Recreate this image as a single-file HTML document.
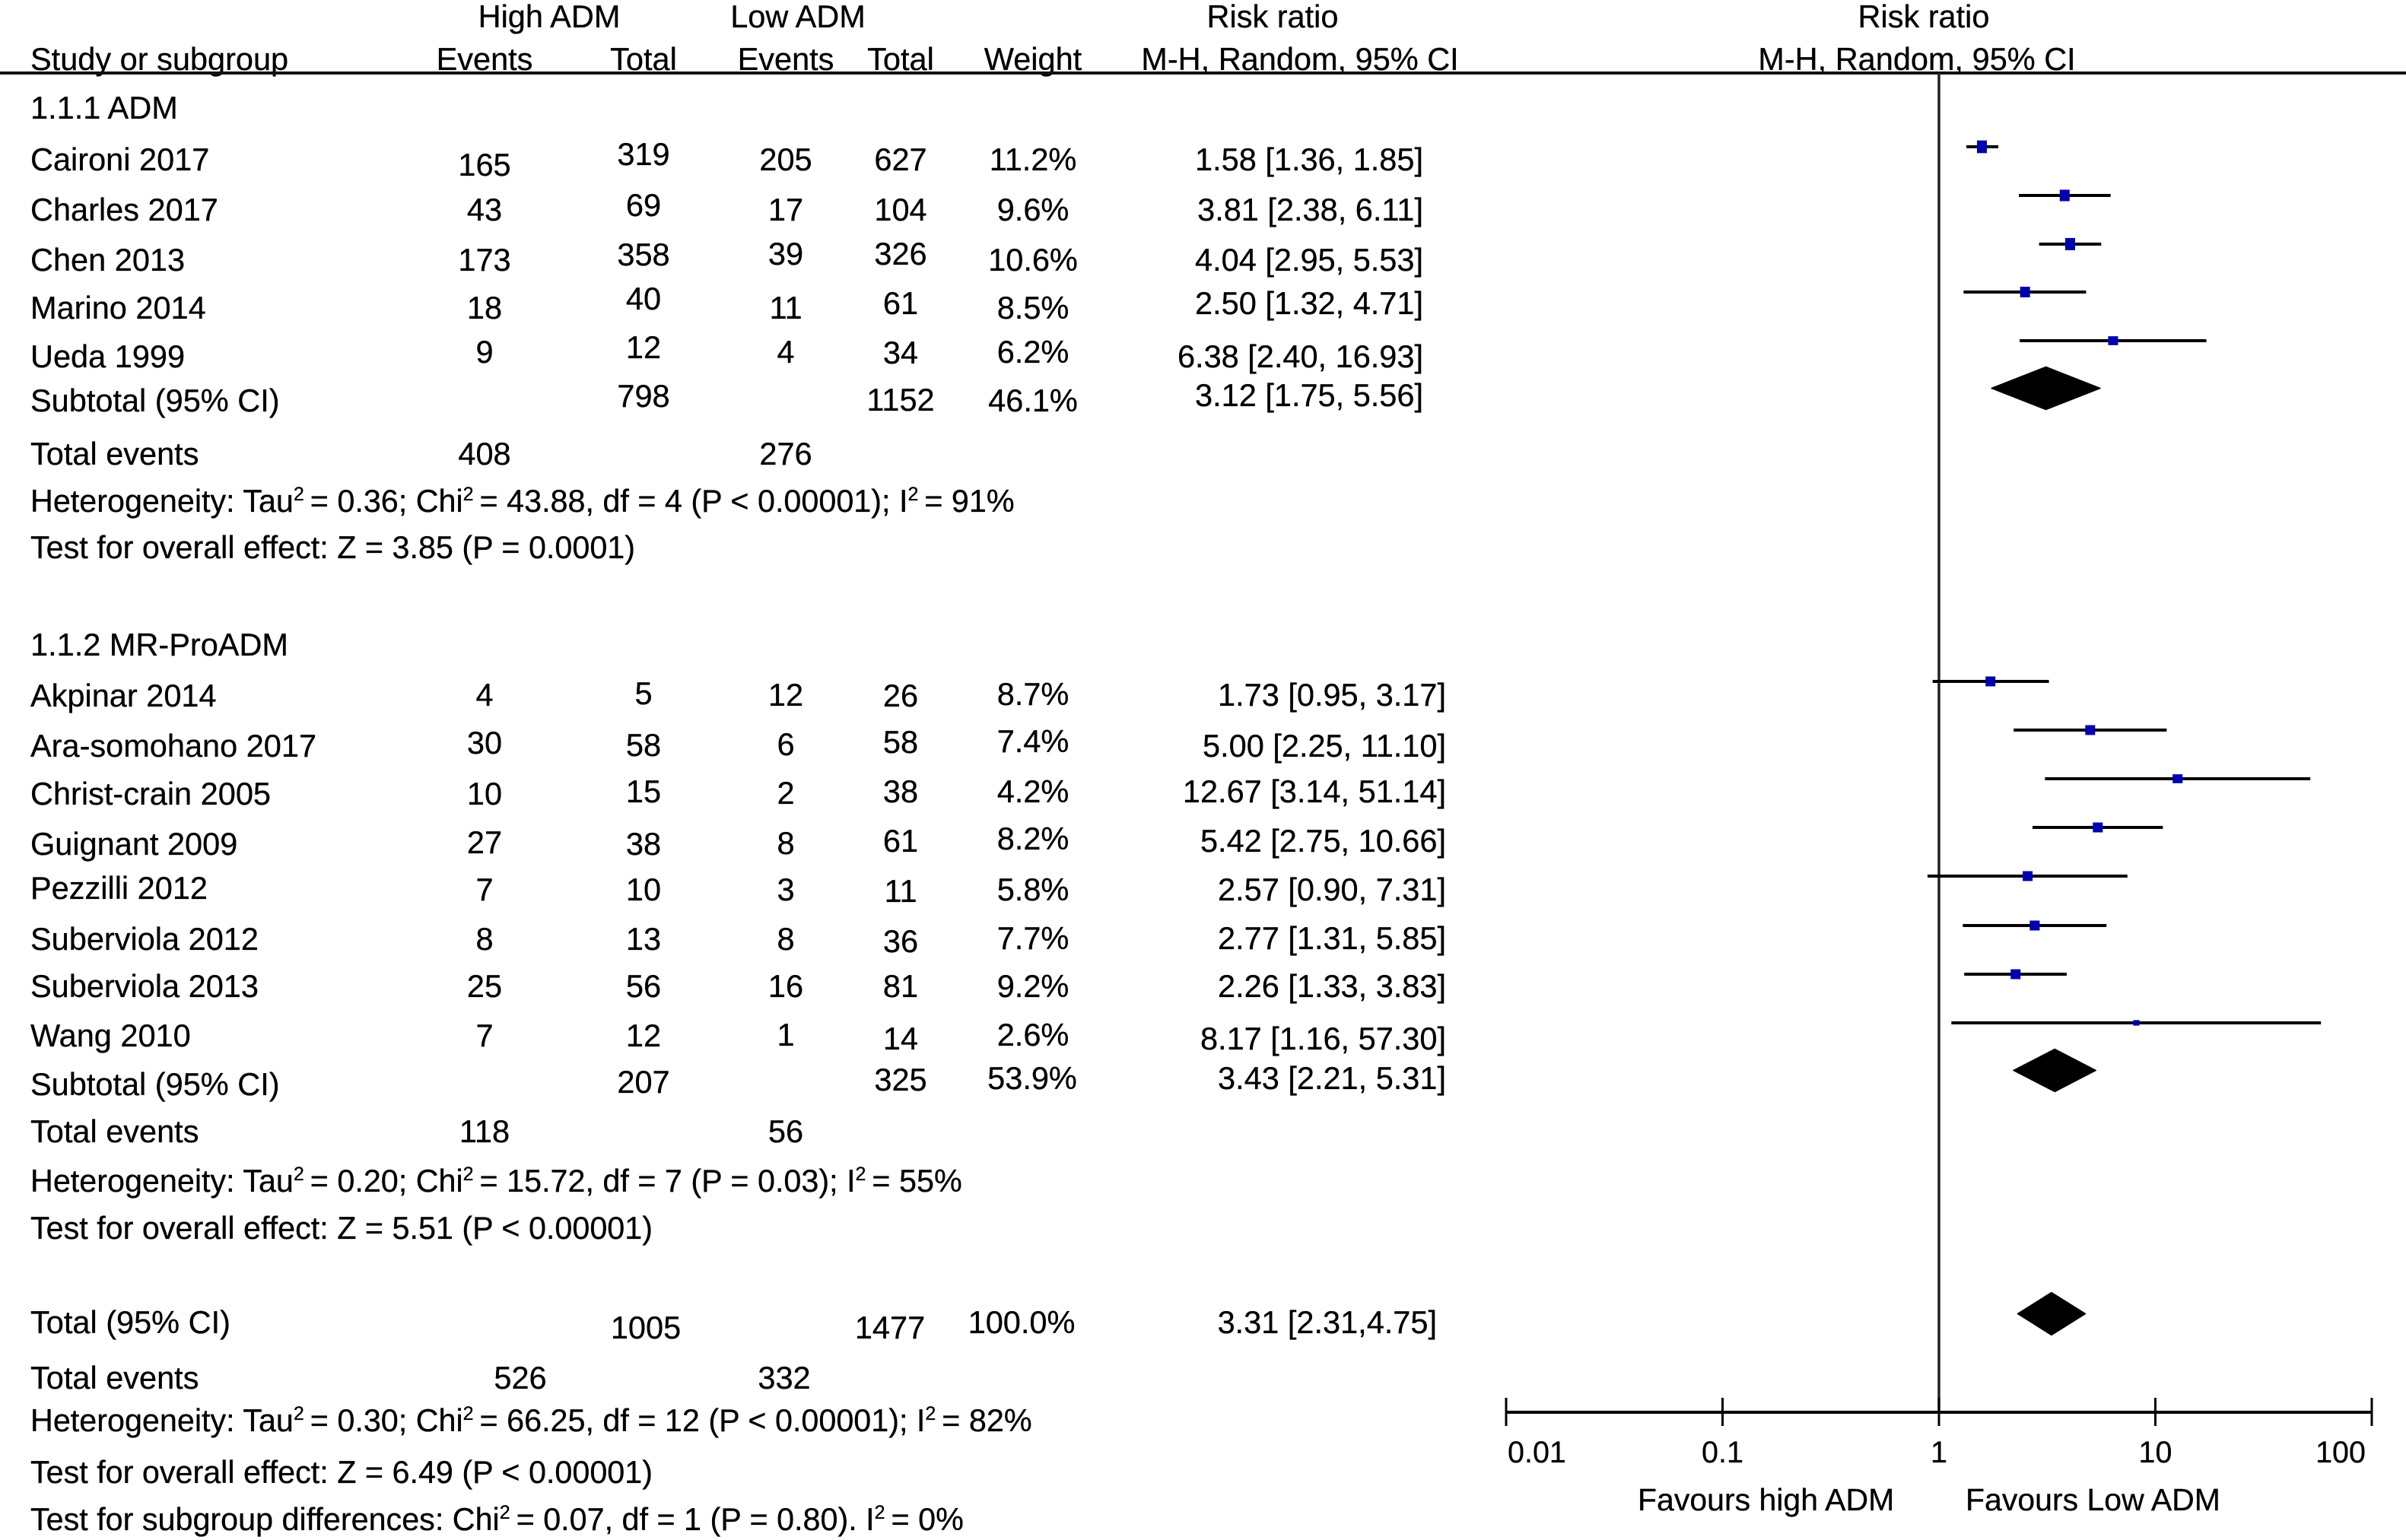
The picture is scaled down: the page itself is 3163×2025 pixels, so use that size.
<!DOCTYPE html>
<html lang="en">
<head>
<meta charset="utf-8">
<title>Forest plot: High ADM vs Low ADM</title>
<style>
html,body{margin:0;padding:0;background:#fff;width:3163px;height:2025px;overflow:hidden}
svg{display:block}
text{font-family:"Liberation Sans",Arial,sans-serif;font-size:41.5px;fill:#000;stroke:#000;stroke-width:.3px}
.m{text-anchor:middle}
.r{text-anchor:end}
.n{font-size:41.3px}
.s{font-size:25px}
</style>
</head>
<body>
<svg id="forest" xmlns="http://www.w3.org/2000/svg" width="3163" height="2025" viewBox="0 0 3163 2025">
<rect x="0" y="0" width="3163" height="2025" fill="#fff"/>

<g>
<text class="m" x="722" y="36">High ADM</text>
<text class="m" x="1049" y="36">Low ADM</text>
<text class="m" x="1673" y="36">Risk ratio</text>
<text class="m" x="2529" y="36">Risk ratio</text>
<text x="40" y="92">Study or subgroup</text>
<text class="m" x="637" y="92">Events</text>
<text class="m" x="846" y="92">Total</text>
<text class="m" x="1033" y="92">Events</text>
<text class="m" x="1184" y="92">Total</text>
<text class="m" x="1358" y="92">Weight</text>
<text class="m" x="1709" y="92">M-H, Random, 95% CI</text>
<text class="m" x="2520" y="92">M-H, Random, 95% CI</text>
</g>

<g>
<text x="40" y="156">1.1.1 ADM</text>

<text x="40" y="224">Caironi 2017</text>
<text class="m" x="637" y="231">165</text>
<text class="m" x="846" y="217">319</text>
<text class="m" x="1033" y="224">205</text>
<text class="m" x="1184" y="224">627</text>
<text class="m" x="1358" y="224">11.2%</text>
<text class="r" x="1871" y="224">1.58 [1.36, 1.85]</text>

<text x="40" y="290">Charles 2017</text>
<text class="m" x="637" y="290">43</text>
<text class="m" x="846" y="284">69</text>
<text class="m" x="1033" y="290">17</text>
<text class="m" x="1184" y="290">104</text>
<text class="m" x="1358" y="290">9.6%</text>
<text class="r" x="1871" y="290">3.81 [2.38, 6.11]</text>

<text x="40" y="356">Chen 2013</text>
<text class="m" x="637" y="356">173</text>
<text class="m" x="846" y="349">358</text>
<text class="m" x="1033" y="348">39</text>
<text class="m" x="1184" y="348">326</text>
<text class="m" x="1358" y="356">10.6%</text>
<text class="r" x="1871" y="356">4.04 [2.95, 5.53]</text>

<text x="40" y="419">Marino 2014</text>
<text class="m" x="637" y="419">18</text>
<text class="m" x="846" y="407">40</text>
<text class="m" x="1033" y="419">11</text>
<text class="m" x="1184" y="413">61</text>
<text class="m" x="1358" y="419">8.5%</text>
<text class="r" x="1871" y="413">2.50 [1.32, 4.71]</text>

<text x="40" y="483">Ueda 1999</text>
<text class="m" x="637" y="477">9</text>
<text class="m" x="846" y="471">12</text>
<text class="m" x="1033" y="477">4</text>
<text class="m" x="1184" y="478">34</text>
<text class="m" x="1358" y="477">6.2%</text>
<text class="r" x="1871" y="483">6.38 [2.40, 16.93]</text>

<text x="40" y="541">Subtotal (95% CI)</text>
<text class="m" x="846" y="535">798</text>
<text class="m" x="1184" y="540">1152</text>
<text class="m" x="1358" y="541">46.1%</text>
<text class="r" x="1871" y="534">3.12 [1.75, 5.56]</text>

<text x="40" y="611">Total events</text>
<text class="m" x="637" y="611">408</text>
<text class="m" x="1033" y="611">276</text>
<text class="n" x="40" y="673">Heterogeneity: Tau<tspan class="s" dy="-15">2</tspan><tspan dx="-3.5" dy="15"> = 0.36; Chi</tspan><tspan class="s" dy="-15">2</tspan><tspan dx="-3.5" dy="15"> = 43.88, df = 4 (P &lt; 0.00001); I</tspan><tspan class="s" dy="-15">2</tspan><tspan dx="-3.5" dy="15"> = 91%</tspan></text>
<text class="n" x="40" y="734">Test for overall effect: Z = 3.85 (P = 0.0001)</text>
</g>

<g>
<text x="40" y="862">1.1.2 MR-ProADM</text>

<text x="40" y="929">Akpinar 2014</text>
<text class="m" x="637" y="928">4</text>
<text class="m" x="846" y="926">5</text>
<text class="m" x="1033" y="928">12</text>
<text class="m" x="1184" y="929">26</text>
<text class="m" x="1358" y="927">8.7%</text>
<text class="r" x="1901" y="928">1.73 [0.95, 3.17]</text>

<text x="40" y="995">Ara-somohano 2017</text>
<text class="m" x="637" y="991">30</text>
<text class="m" x="846" y="994">58</text>
<text class="m" x="1033" y="993">6</text>
<text class="m" x="1184" y="990">58</text>
<text class="m" x="1358" y="989">7.4%</text>
<text class="r" x="1901" y="995">5.00 [2.25, 11.10]</text>

<text x="40" y="1058">Christ-crain 2005</text>
<text class="m" x="637" y="1058">10</text>
<text class="m" x="846" y="1055">15</text>
<text class="m" x="1033" y="1057">2</text>
<text class="m" x="1184" y="1055">38</text>
<text class="m" x="1358" y="1055">4.2%</text>
<text class="r" x="1901" y="1055">12.67 [3.14, 51.14]</text>

<text x="40" y="1124">Guignant 2009</text>
<text class="m" x="637" y="1122">27</text>
<text class="m" x="846" y="1124">38</text>
<text class="m" x="1033" y="1123">8</text>
<text class="m" x="1184" y="1120">61</text>
<text class="m" x="1358" y="1117">8.2%</text>
<text class="r" x="1901" y="1120">5.42 [2.75, 10.66]</text>

<text x="40" y="1182">Pezzilli 2012</text>
<text class="m" x="637" y="1184">7</text>
<text class="m" x="846" y="1184">10</text>
<text class="m" x="1033" y="1184">3</text>
<text class="m" x="1184" y="1186">11</text>
<text class="m" x="1358" y="1184">5.8%</text>
<text class="r" x="1901" y="1184">2.57 [0.90, 7.31]</text>

<text x="40" y="1249">Suberviola 2012</text>
<text class="m" x="637" y="1249">8</text>
<text class="m" x="846" y="1249">13</text>
<text class="m" x="1033" y="1249">8</text>
<text class="m" x="1184" y="1252">36</text>
<text class="m" x="1358" y="1248">7.7%</text>
<text class="r" x="1901" y="1248">2.77 [1.31, 5.85]</text>

<text x="40" y="1311">Suberviola 2013</text>
<text class="m" x="637" y="1311">25</text>
<text class="m" x="846" y="1311">56</text>
<text class="m" x="1033" y="1311">16</text>
<text class="m" x="1184" y="1311">81</text>
<text class="m" x="1358" y="1311">9.2%</text>
<text class="r" x="1901" y="1311">2.26 [1.33, 3.83]</text>

<text x="40" y="1376">Wang 2010</text>
<text class="m" x="637" y="1376">7</text>
<text class="m" x="846" y="1376">12</text>
<text class="m" x="1033" y="1375">1</text>
<text class="m" x="1184" y="1380">14</text>
<text class="m" x="1358" y="1375">2.6%</text>
<text class="r" x="1901" y="1380">8.17 [1.16, 57.30]</text>

<text x="40" y="1440">Subtotal (95% CI)</text>
<text class="m" x="846" y="1437">207</text>
<text class="m" x="1184" y="1434">325</text>
<text class="m" x="1357" y="1432">53.9%</text>
<text class="r" x="1901" y="1432">3.43 [2.21, 5.31]</text>

<text x="40" y="1502">Total events</text>
<text class="m" x="637" y="1502">118</text>
<text class="m" x="1033" y="1502">56</text>
<text class="n" x="40" y="1567">Heterogeneity: Tau<tspan class="s" dy="-15">2</tspan><tspan dx="-3.5" dy="15"> = 0.20; Chi</tspan><tspan class="s" dy="-15">2</tspan><tspan dx="-3.5" dy="15"> = 15.72, df = 7 (P = 0.03); I</tspan><tspan class="s" dy="-15">2</tspan><tspan dx="-3.5" dy="15"> = 55%</tspan></text>
<text class="n" x="40" y="1629">Test for overall effect: Z = 5.51 (P &lt; 0.00001)</text>
</g>

<g>
<text x="40" y="1753">Total (95% CI)</text>
<text class="m" x="849" y="1760">1005</text>
<text class="m" x="1170" y="1760">1477</text>
<text class="m" x="1343" y="1753">100.0%</text>
<text class="r" x="1889" y="1753">3.31 [2.31,4.75]</text>
<text x="40" y="1826">Total events</text>
<text class="m" x="684" y="1826">526</text>
<text class="m" x="1031" y="1826">332</text>
<text class="n" x="40" y="1882">Heterogeneity: Tau<tspan class="s" dy="-15">2</tspan><tspan dx="-3.5" dy="15"> = 0.30; Chi</tspan><tspan class="s" dy="-15">2</tspan><tspan dx="-3.5" dy="15"> = 66.25, df = 12 (P &lt; 0.00001); I</tspan><tspan class="s" dy="-15">2</tspan><tspan dx="-3.5" dy="15"> = 82%</tspan></text>
<text class="n" x="40" y="1950">Test for overall effect: Z = 6.49 (P &lt; 0.00001)</text>
<text class="n" x="40" y="2012">Test for subgroup differences: Chi<tspan class="s" dy="-15">2</tspan><tspan dx="-3.5" dy="15"> = 0.07, df = 1 (P = 0.80). I</tspan><tspan class="s" dy="-15">2</tspan><tspan dx="-3.5" dy="15"> = 0%</tspan></text>
</g>

<rect x="0" y="94" width="3163" height="4" fill="#111"/>
<text style="font-size:41px" x="2153" y="1986">Favours high ADM</text>
<text style="font-size:41px" x="2584" y="1986">Favours Low ADM</text>
<g id="plot"></g>
</svg>

<script>
const studies = ["Caironi 2017","Charles 2017","Chen 2013","Marino 2014","Ueda 1999","Akpinar 2014","Ara-somohano 2017","Christ-crain 2005","Guignant 2009","Pezzilli 2012","Suberviola 2012","Suberviola 2013","Wang 2010"];
const studyGroup = [0,0,0,0,0,1,1,1,1,1,1,1,1];
const riskRatio = [1.58,3.81,4.04,2.50,6.38,1.73,5.00,12.67,5.42,2.57,2.77,2.26,8.17];
const ciLower = [1.36,2.38,2.95,1.32,2.40,0.95,2.25,3.14,2.75,0.90,1.31,1.33,1.16];
const ciUpper = [1.85,6.11,5.53,4.71,16.93,3.17,11.10,51.14,10.66,7.31,5.85,3.83,57.30];
const weights = [11.2,9.6,10.6,8.5,6.2,8.7,7.4,4.2,8.2,5.8,7.7,9.2,2.6];
const summaryNames = ["subtotal-adm","subtotal-mr-proadm","total-overall"];
const summaryRatio = [3.12,3.43,3.31];
const summaryLower = [1.75,2.21,2.31];
const summaryUpper = [5.56,5.31,4.75];
const tickValues = [0.01,0.1,1,10,100];
const tickLabels = ["0.01","0.1","1","10","100"];

const NS = "http://www.w3.org/2000/svg";
const plot = document.getElementById("plot");
const axisY = 1857;
const headerY = 96;

function xScale(v){ return 2549 + 284.5 * Math.log10(v); }
function groupRowY(group, row){ return Math.round(group === 0 ? 193 + row * 63.8 : 896 + row * 64.1); }
function make(tag, attrs){
  const el = document.createElementNS(NS, tag);
  for (const k in attrs) el.setAttribute(k, attrs[k]);
  plot.appendChild(el);
  return el;
}

const nullLine = make("line", {x1:xScale(1), x2:xScale(1), y1:headerY, y2:axisY, stroke:"#222", "stroke-width":3.5});



const rowCounter = [0, 0];
studies.forEach(function(name, i){
  const g = studyGroup[i];
  const y = groupRowY(g, rowCounter[g]);
  rowCounter[g] += 1;
  const ci = make("line", {x1:xScale(ciLower[i]), x2:xScale(ciUpper[i]), y1:y, y2:y, stroke:"#000", "stroke-width":4, "stroke-linecap":"square"});
  
  
  const w = Math.min(13, weights[i] * 3.1);
  const h = g === 0 ? 5.5 + weights[i] : Math.min(13, weights[i] * 2.8);
  const marker = make("rect", {x:xScale(riskRatio[i]) - w / 2, y:y - h / 2, width:w, height:h, fill:"#0000b0"});
  
  
});

summaryNames.forEach(function(name, i){
  const row = i === 2 ? studies.length : rowCounter[i];
  const y = groupRowY(i === 0 ? 0 : 1, row) - 1.5;
  const pts = [
    [xScale(summaryLower[i]), y],
    [xScale(summaryRatio[i]), y - 28],
    [xScale(summaryUpper[i]), y],
    [xScale(summaryRatio[i]), y + 28]
  ].map(function(p){ return p.join(","); }).join(" ");
  const d = make("polygon", {points:pts, fill:"#000", stroke:"#000", "stroke-width":1.5, "stroke-linejoin":"round"});
  
  
});

const axisLine = make("line", {x1:xScale(tickValues[0]), x2:xScale(tickValues[tickValues.length - 1]), y1:axisY, y2:axisY, stroke:"#000", "stroke-width":4});



tickValues.forEach(function(v, i){
  const x = xScale(v);
  const tick = make("line", {x1:x, x2:x, y1:axisY - 19, y2:axisY + 18, stroke:"#000", "stroke-width":3});
  
  
  const last = tickValues.length - 1;
  const label = make("text", {
    x: i === 0 ? x + 2 : (i === last ? x - 8 : x),
    y: 1923,
    "text-anchor": i === 0 ? "start" : (i === last ? "end" : "middle"),
    style: "font-size:39.5px"
  });
  label.textContent = tickLabels[i];
  
  
});
</script>
</body>
</html>
